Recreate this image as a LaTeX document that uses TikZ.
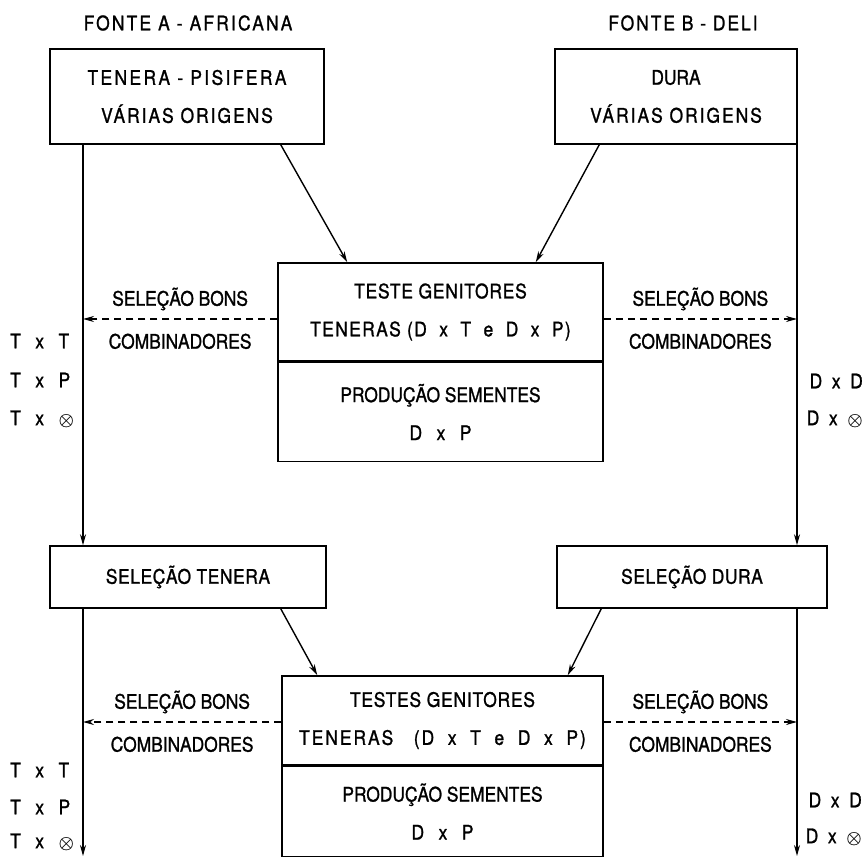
\documentclass[tikz,border=0pt]{standalone}
\usepackage{fontspec}
\setmainfont{TeX Gyre Heros}[FakeStretch=0.87, FakeBold=1.2]
\usetikzlibrary{arrows.meta}
\usetikzlibrary{positioning}
\newcommand\tracked[2]{{\addfontfeature{LetterSpace=#1}#2}}
\newcommand\selfed{{\fontsize{16}{16}\selectfont\boldmath$\otimes$}}

\begin{document}
\begin{tikzpicture}[x=1pt, y=-1pt,
  box/.style={draw, line width=1.5pt, align=center, inner sep=0pt,
    font=\fontsize{20}{38}\selectfont},
  flow/.style={line width=1.4pt, -{Stealth[length=11pt, width=6pt]}},
  select/.style={flow, dash pattern=on 7pt off 5pt},
  lbl/.style={font=\fontsize{20}{24}\selectfont, inner sep=0pt}]
  \useasboundingbox (0,0) rectangle (865,858);

  % the two sources
  \node [lbl] (titleA) at (188,23) {\tracked{11}{FONTE A - AFRICANA}};
  \node [lbl] (titleB) at (683,23) {\tracked{10}{FONTE B - DELI}};
  \node [box, minimum width=274, minimum height=95] (srcA) at (187,96.5)
    {\tracked{12}{TENERA - PISIFERA}\\\tracked{10}{VÁRIAS ORIGENS}};
  \node [box, minimum width=242, minimum height=95] (srcB) at (676,96.5)
    {DURA\\\tracked{10}{VÁRIAS ORIGENS}};

  % first test box
  \node [box, minimum width=325, minimum height=98] (testA) at (440.5,312)
    {\tracked{4}{TESTE GENITORES}\\\tracked{7}{TENERAS (D~~x~~T~~e~~D~~x~~P)}};
  \node [box, minimum width=325, minimum height=99, below=0pt of testA] (seedA)
    {PRODUÇÃO SEMENTES\\D~~~x~~~P};

  % selection boxes
  \node [box, minimum width=276, minimum height=62] (selT) at (188,577) {\tracked{3}{SELEÇÃO TENERA}};
  \node [box, minimum width=270, minimum height=62] (selD) at (692,577) {\tracked{3}{SELEÇÃO DURA}};

  % second test box
  \node [box, minimum width=321, minimum height=89] (testB) at (442.5,720.5)
    {\tracked{4}{TESTES GENITORES}\\\tracked{10}{TENERAS~~~(D~~x~~T~~e~~D~~x~~P)}};
  \node [box, minimum width=321, minimum height=90, below=0pt of testB] (seedB)
    {PRODUÇÃO SEMENTES\\D~~~x~~~P};

  % side columns
  \coordinate (colL) at (83,0);
  \coordinate (colR) at (797,0);
  \coordinate (endL) at (83,856);
  \coordinate (endR) at (797,856);
  \draw [flow] (srcA.south -| colL) -- (selT.north -| colL);
  \draw [flow] (selT.south -| colL) -- (endL);
  \draw [flow] (srcB.south -| colR) -- (selD.north -| colR);
  \draw [flow] (selD.south -| colR) -- (endR);

  % into the test boxes
  \draw [flow] ([xshift=-44pt]srcA.south east) -- ([xshift=70pt]testA.north west);
  \draw [flow] ([xshift=45pt]srcB.south west) -- ([xshift=-68pt]testA.north east);
  \draw [flow] ([xshift=-46pt]selT.south east) -- ([xshift=36pt]testB.north west);
  \draw [flow] ([xshift=45pt]selD.south west) -- ([xshift=-36pt]testB.north east);

  % good combiners back to the columns
  \draw [select] ([yshift=-7pt]testA.west) -- ([yshift=-7pt]testA.west -| colL)
    node [lbl, midway, above=8pt] {SELEÇÃO BONS}
    node [lbl, midway, below=14pt] {COMBINADORES};
  \draw [select] ([yshift=-7pt]testA.east) -- ([yshift=-7pt]testA.east -| colR)
    node [lbl, midway, above=8pt] {SELEÇÃO BONS}
    node [lbl, midway, below=14pt] {COMBINADORES};
  \draw [select] ([yshift=-1.5pt]testB.west) -- ([yshift=-1.5pt]testB.west -| colL)
    node [lbl, midway, above=8pt] {SELEÇÃO BONS}
    node [lbl, midway, below=14pt] {COMBINADORES};
  \draw [select] ([yshift=-1.5pt]testB.east) -- ([yshift=-1.5pt]testB.east -| colR)
    node [lbl, midway, above=8pt] {SELEÇÃO BONS}
    node [lbl, midway, below=14pt] {COMBINADORES};

  % crosses
  \node [lbl, anchor=west] (ttA) at (10,341) {T~~~x~~~T};
  \node [lbl, anchor=west] (tpA) at (10,380) {T~~~x~~~P};
  \node [lbl, anchor=west] (tsA) at (10,419) {T~~~x~~~\selfed};
  \node [lbl, anchor=east] (ddA) at (863,381) {D~~x~~D};
  \node [lbl, anchor=east] (dsA) at (863,419) {D~~x~~\selfed};
  \node [lbl, anchor=west] (ttB) at (10,770) {T~~~x~~~T};
  \node [lbl, anchor=west] (tpB) at (10,807) {T~~~x~~~P};
  \node [lbl, anchor=west] (tsB) at (10,842) {T~~~x~~~\selfed};
  \node [lbl, anchor=east] (ddB) at (862,800) {D~~x~~D};
  \node [lbl, anchor=east] (dsB) at (862,837) {D~~x~~\selfed};

\end{tikzpicture}
\end{document}
